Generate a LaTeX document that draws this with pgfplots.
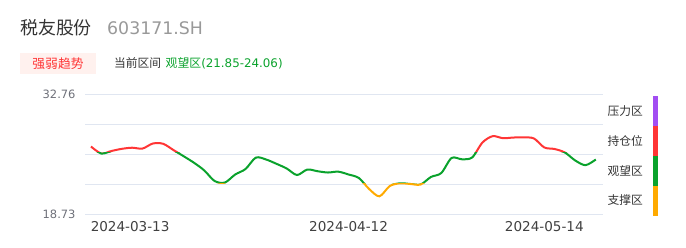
\documentclass[border=0pt]{standalone}
\usepackage{pgfplots}
\pgfplotsset{compat=1.18}
\usepackage{pgfplotstable}
\usepackage{fontspec}
\setmainfont{DejaVu Sans}
\newfontfamily\cjk{Noto Sans CJK SC}
\definecolor{lred}{HTML}{FF3535}
\definecolor{lgreen}{HTML}{0AA22C}
\definecolor{lyellow}{HTML}{FFAA00}
\definecolor{lpurple}{HTML}{A24DF2}
\definecolor{gridc}{HTML}{E0E6F1}
\definecolor{tagbg}{HTML}{FFF1EE}
\definecolor{ylab}{HTML}{6E7079}
\definecolor{xlab}{HTML}{404040}
\pgfplotstableread{
i v
0 26.62
1 25.80
2 26.10
3 26.35
4 26.48
5 26.38
6 26.97
7 26.94
8 26.21
9 25.48
10 24.72
11 23.82
12 22.59
13 22.41
14 23.35
15 23.99
16 25.32
17 25.10
18 24.60
19 24.05
20 23.29
21 23.93
22 23.73
23 23.58
24 23.68
25 23.35
26 22.94
27 21.65
28 20.80
29 22.00
30 22.32
31 22.24
32 22.18
33 23.06
34 23.52
35 25.28
36 25.13
37 25.34
38 27.09
39 27.83
40 27.59
41 27.67
42 27.69
43 27.56
44 26.51
45 26.33
46 25.92
47 24.99
48 24.44
49 25.10
}\pricedata
\begin{document}
\begin{tikzpicture}[x=1bp,y=1bp]
\path[use as bounding box] (0,0) rectangle (686,247);
% title
\node[anchor=west,inner sep=0pt,text=black!80] at (20,219) {\cjk\fontsize{18}{20}\selectfont 税友股份};
\node[anchor=west,inner sep=0pt,text=black!40] at (107,219) {\fontsize{17.4}{20}\selectfont 603171.SH};
% tag
\fill[tagbg] (20,173) rectangle (96,194);
\node[inner sep=0pt,text=lred] at (58,183.5) {\cjk\fontsize{12.8}{14}\selectfont 强弱趋势};
\node[anchor=west,inner sep=0pt,text=black!80] at (114,184) {\cjk\fontsize{11.8}{14}\selectfont 当前区间};
\node[anchor=west,inner sep=0pt,text=lgreen] at (165.5,184) {\fontsize{11.9}{14}\selectfont{\cjk 观望区}(21.85-24.06)};
% legend
\node[anchor=west,inner sep=0pt,text=black!80] at (607.5,136) {\cjk\fontsize{11.8}{14}\selectfont 压力区};
\node[anchor=west,inner sep=0pt,text=black!80] at (607.5,106) {\cjk\fontsize{11.8}{14}\selectfont 持仓位};
\node[anchor=west,inner sep=0pt,text=black!80] at (607.5,76) {\cjk\fontsize{11.8}{14}\selectfont 观望区};
\node[anchor=west,inner sep=0pt,text=black!80] at (607.5,47) {\cjk\fontsize{11.8}{14}\selectfont 支撑区};
\fill[lpurple] (653,121) rectangle (658,151);
\fill[lred] (653,91) rectangle (658,121);
\fill[lgreen] (653,61) rectangle (658,91);
\fill[lyellow] (653,31) rectangle (658,61);
\begin{axis}[
  at={(85bp,33bp)}, anchor=south west,
  scale only axis, width=518bp, height=120bp,
  xmin=-0.58, xmax=49.7,
  ymin=18.73, ymax=32.76,
  axis line style={draw=none},
  tick style={draw=none},
  ytick={18.73,22.2375,25.745,29.2525,32.76},
  yticklabels={18.73,,,,32.76},
  xtick={3.8,25,44},
  xticklabels={2024-03-13,2024-04-12,2024-05-14},
  ymajorgrids, major grid style={gridc, line width=0.8bp},
  /pgf/number format/assume math mode=true,
  yticklabel style={anchor=east, inner sep=0pt, xshift=-9.3bp, text=ylab, font=\fontsize{11.5}{13}\selectfont},
  xticklabel style={anchor=north, inner sep=0pt, yshift=-7.5bp, text=xlab, font=\fontsize{13.6}{15}\selectfont},
]
\begin{scope}
\clip (axis cs:-1,25.9) rectangle (axis cs:51,40);
\addplot[lred, line width=2bp, smooth, tension=0.5, no markers] table[x=i,y=v] {\pricedata};
\end{scope}
\begin{scope}
\clip (axis cs:-1,22.25) rectangle (axis cs:51,25.9);
\addplot[lgreen, line width=2bp, smooth, tension=0.5, no markers] table[x=i,y=v] {\pricedata};
\end{scope}
\begin{scope}
\clip (axis cs:-1,10) rectangle (axis cs:51,22.25);
\addplot[lyellow, line width=2bp, smooth, tension=0.5, no markers] table[x=i,y=v] {\pricedata};
\end{scope}
\end{axis}
\end{tikzpicture}
\end{document}
